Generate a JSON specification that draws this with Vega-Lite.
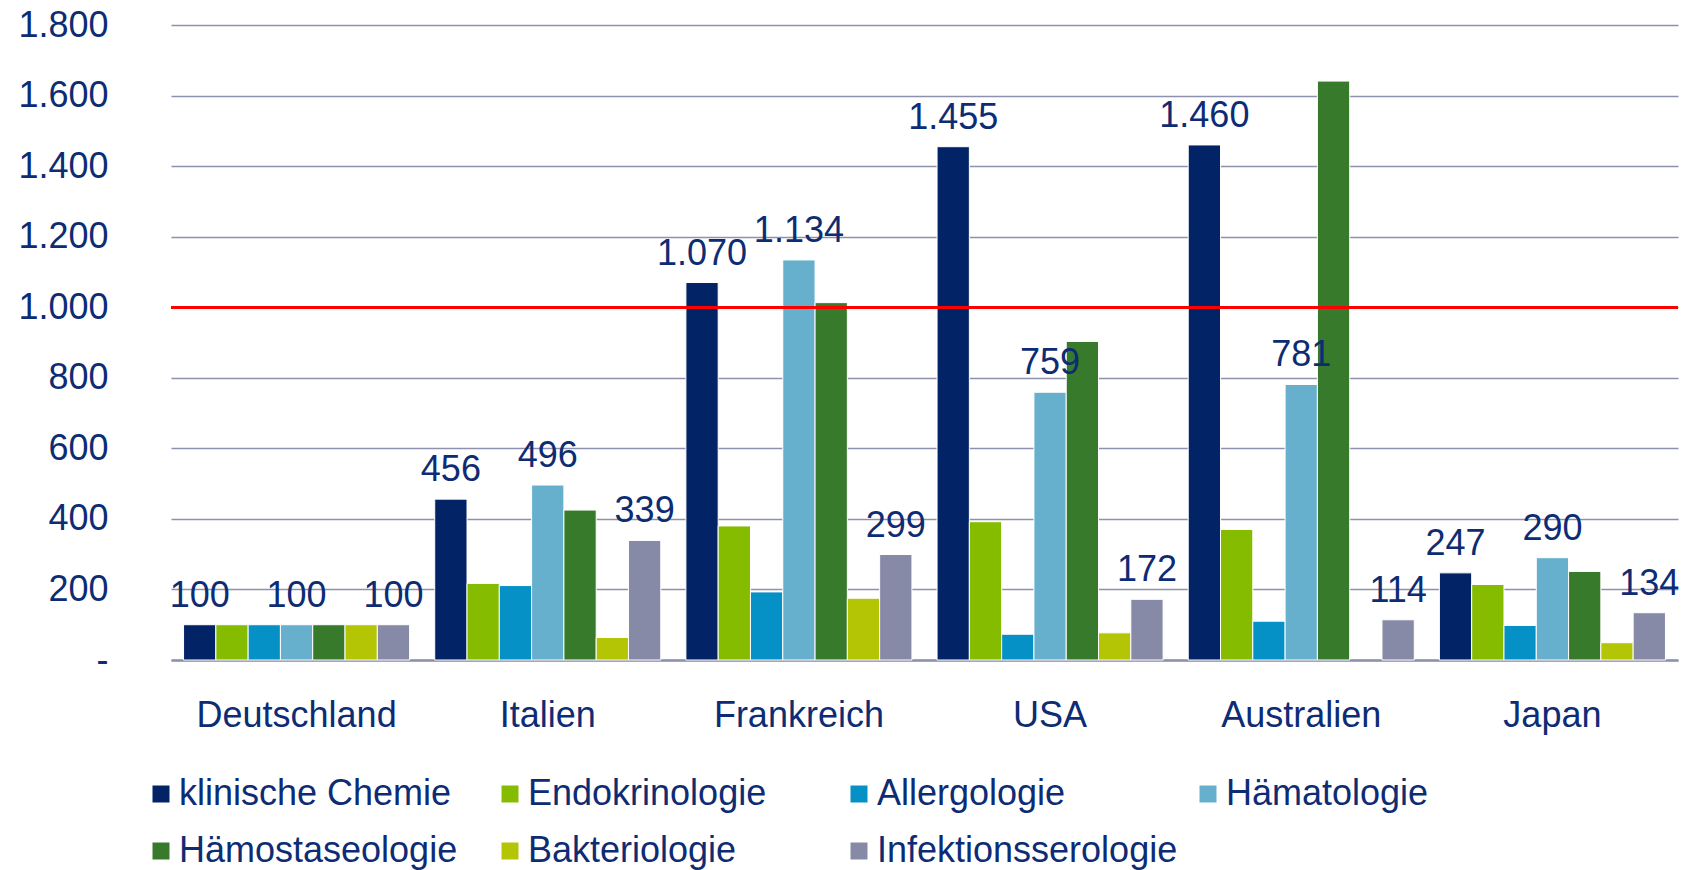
{
  "$schema": "https://vega.github.io/schema/vega-lite/v6.json",
  "autosize": {"type": "none"},
  "width": 1507,
  "height": 635,
  "padding": {"left": 171, "top": 25, "right": 16, "bottom": 210},
  "config": {
    "view": {"stroke": null},
    "font": "Liberation Sans, Arial, sans-serif",
    "locale": {"number": {"decimal": ",", "thousands": ".", "grouping": [3], "currency": ["", " €"]}}
  },
  "data": {
    "values": [
      {"Land": "Deutschland", "Fachgebiet": "klinische Chemie", "Index": 100},
      {"Land": "Deutschland", "Fachgebiet": "Endokrinologie", "Index": 100},
      {"Land": "Deutschland", "Fachgebiet": "Allergologie", "Index": 100},
      {"Land": "Deutschland", "Fachgebiet": "Hämatologie", "Index": 100},
      {"Land": "Deutschland", "Fachgebiet": "Hämostaseologie", "Index": 100},
      {"Land": "Deutschland", "Fachgebiet": "Bakteriologie", "Index": 100},
      {"Land": "Deutschland", "Fachgebiet": "Infektionsserologie", "Index": 100},
      {"Land": "Italien", "Fachgebiet": "klinische Chemie", "Index": 456},
      {"Land": "Italien", "Fachgebiet": "Endokrinologie", "Index": 217},
      {"Land": "Italien", "Fachgebiet": "Allergologie", "Index": 211},
      {"Land": "Italien", "Fachgebiet": "Hämatologie", "Index": 496},
      {"Land": "Italien", "Fachgebiet": "Hämostaseologie", "Index": 425},
      {"Land": "Italien", "Fachgebiet": "Bakteriologie", "Index": 64},
      {"Land": "Italien", "Fachgebiet": "Infektionsserologie", "Index": 339},
      {"Land": "Frankreich", "Fachgebiet": "klinische Chemie", "Index": 1070},
      {"Land": "Frankreich", "Fachgebiet": "Endokrinologie", "Index": 380},
      {"Land": "Frankreich", "Fachgebiet": "Allergologie", "Index": 193},
      {"Land": "Frankreich", "Fachgebiet": "Hämatologie", "Index": 1134},
      {"Land": "Frankreich", "Fachgebiet": "Hämostaseologie", "Index": 1013},
      {"Land": "Frankreich", "Fachgebiet": "Bakteriologie", "Index": 175},
      {"Land": "Frankreich", "Fachgebiet": "Infektionsserologie", "Index": 299},
      {"Land": "USA", "Fachgebiet": "klinische Chemie", "Index": 1455},
      {"Land": "USA", "Fachgebiet": "Endokrinologie", "Index": 392},
      {"Land": "USA", "Fachgebiet": "Allergologie", "Index": 73},
      {"Land": "USA", "Fachgebiet": "Hämatologie", "Index": 759},
      {"Land": "USA", "Fachgebiet": "Hämostaseologie", "Index": 903},
      {"Land": "USA", "Fachgebiet": "Bakteriologie", "Index": 77},
      {"Land": "USA", "Fachgebiet": "Infektionsserologie", "Index": 172},
      {"Land": "Australien", "Fachgebiet": "klinische Chemie", "Index": 1460},
      {"Land": "Australien", "Fachgebiet": "Endokrinologie", "Index": 370},
      {"Land": "Australien", "Fachgebiet": "Allergologie", "Index": 110},
      {"Land": "Australien", "Fachgebiet": "Hämatologie", "Index": 781},
      {"Land": "Australien", "Fachgebiet": "Hämostaseologie", "Index": 1641},
      {"Land": "Australien", "Fachgebiet": "Infektionsserologie", "Index": 114},
      {"Land": "Japan", "Fachgebiet": "klinische Chemie", "Index": 247},
      {"Land": "Japan", "Fachgebiet": "Endokrinologie", "Index": 214},
      {"Land": "Japan", "Fachgebiet": "Allergologie", "Index": 98},
      {"Land": "Japan", "Fachgebiet": "Hämatologie", "Index": 290},
      {"Land": "Japan", "Fachgebiet": "Hämostaseologie", "Index": 251},
      {"Land": "Japan", "Fachgebiet": "Bakteriologie", "Index": 49},
      {"Land": "Japan", "Fachgebiet": "Infektionsserologie", "Index": 134}
    ]
  },
  "encoding": {
    "x": {
      "field": "Land",
      "type": "nominal",
      "sort": ["Deutschland", "Italien", "Frankreich", "USA", "Australien", "Japan"],
      "scale": {"paddingInner": 0.1, "paddingOuter": 0.05},
      "axis": {
        "title": null,
        "labelAngle": 0,
        "labelFontSize": 36,
        "labelColor": "#0D2C74",
        "labelPadding": 38,
        "labelLimit": 400,
        "ticks": false,
        "domain": true,
        "domainColor": "#8E91AD",
        "domainWidth": 2.5,
        "grid": false
      }
    },
    "xOffset": {
      "field": "Fachgebiet",
      "type": "nominal",
      "sort": ["klinische Chemie", "Endokrinologie", "Allergologie", "Hämatologie", "Hämostaseologie", "Bakteriologie", "Infektionsserologie"],
      "scale": {"paddingInner": 0, "paddingOuter": 0}
    },
    "y": {
      "field": "Index",
      "type": "quantitative",
      "scale": {"domain": [0, 1800], "nice": false},
      "axis": {
        "title": null,
        "values": [0, 200, 400, 600, 800, 1000, 1200, 1400, 1600, 1800],
        "labelExpr": "datum.value == 0 ? '-' : format(datum.value, ',')",
        "labelFontSize": 36,
        "labelColor": "#0D2C74",
        "labelPadding": 63,
        "labelLimit": 300,
        "ticks": false,
        "domain": false,
        "grid": true,
        "gridColor": "#8E91AD",
        "gridWidth": 1.6
      }
    }
  },
  "layer": [
    {
      "mark": {"type": "bar", "stroke": "white", "strokeWidth": 1},
      "encoding": {
        "color": {
          "field": "Fachgebiet",
          "type": "nominal",
          "sort": ["klinische Chemie", "Endokrinologie", "Allergologie", "Hämatologie", "Hämostaseologie", "Bakteriologie", "Infektionsserologie"],
          "scale": {
            "domain": ["klinische Chemie", "Endokrinologie", "Allergologie", "Hämatologie", "Hämostaseologie", "Bakteriologie", "Infektionsserologie"],
            "range": ["#022366", "#85BC00", "#0590C6", "#66B0CE", "#387A2B", "#B4C506", "#868AA6"]
          },
          "legend": {
            "title": null,
            "orient": "none",
            "legendX": -28,
            "legendY": 751,
            "direction": "horizontal",
            "columns": 4,
            "gridAlign": "all",
            "columnPadding": 12,
            "rowPadding": 21,
            "symbolType": "square",
            "symbolSize": 289,
            "symbolStrokeWidth": 0,
            "labelFontSize": 36,
            "labelColor": "#0D2C74",
            "labelLimit": 500,
            "labelOffset": 0
          }
        }
      }
    },
    {
      "mark": {"type": "rule", "color": "#FF0000", "strokeWidth": 2.5},
      "encoding": {"y": {"datum": 1000}, "x": null, "xOffset": null}
    },
    {
      "transform": [
        {"filter": {"field": "Fachgebiet", "oneOf": ["klinische Chemie", "Hämatologie", "Infektionsserologie"]}}
      ],
      "mark": {"type": "text", "baseline": "alphabetic", "dy": -18, "fontSize": 36, "color": "#0D2C74"},
      "encoding": {
        "text": {"field": "Index", "type": "quantitative", "format": ","}
      }
    }
  ]
}
